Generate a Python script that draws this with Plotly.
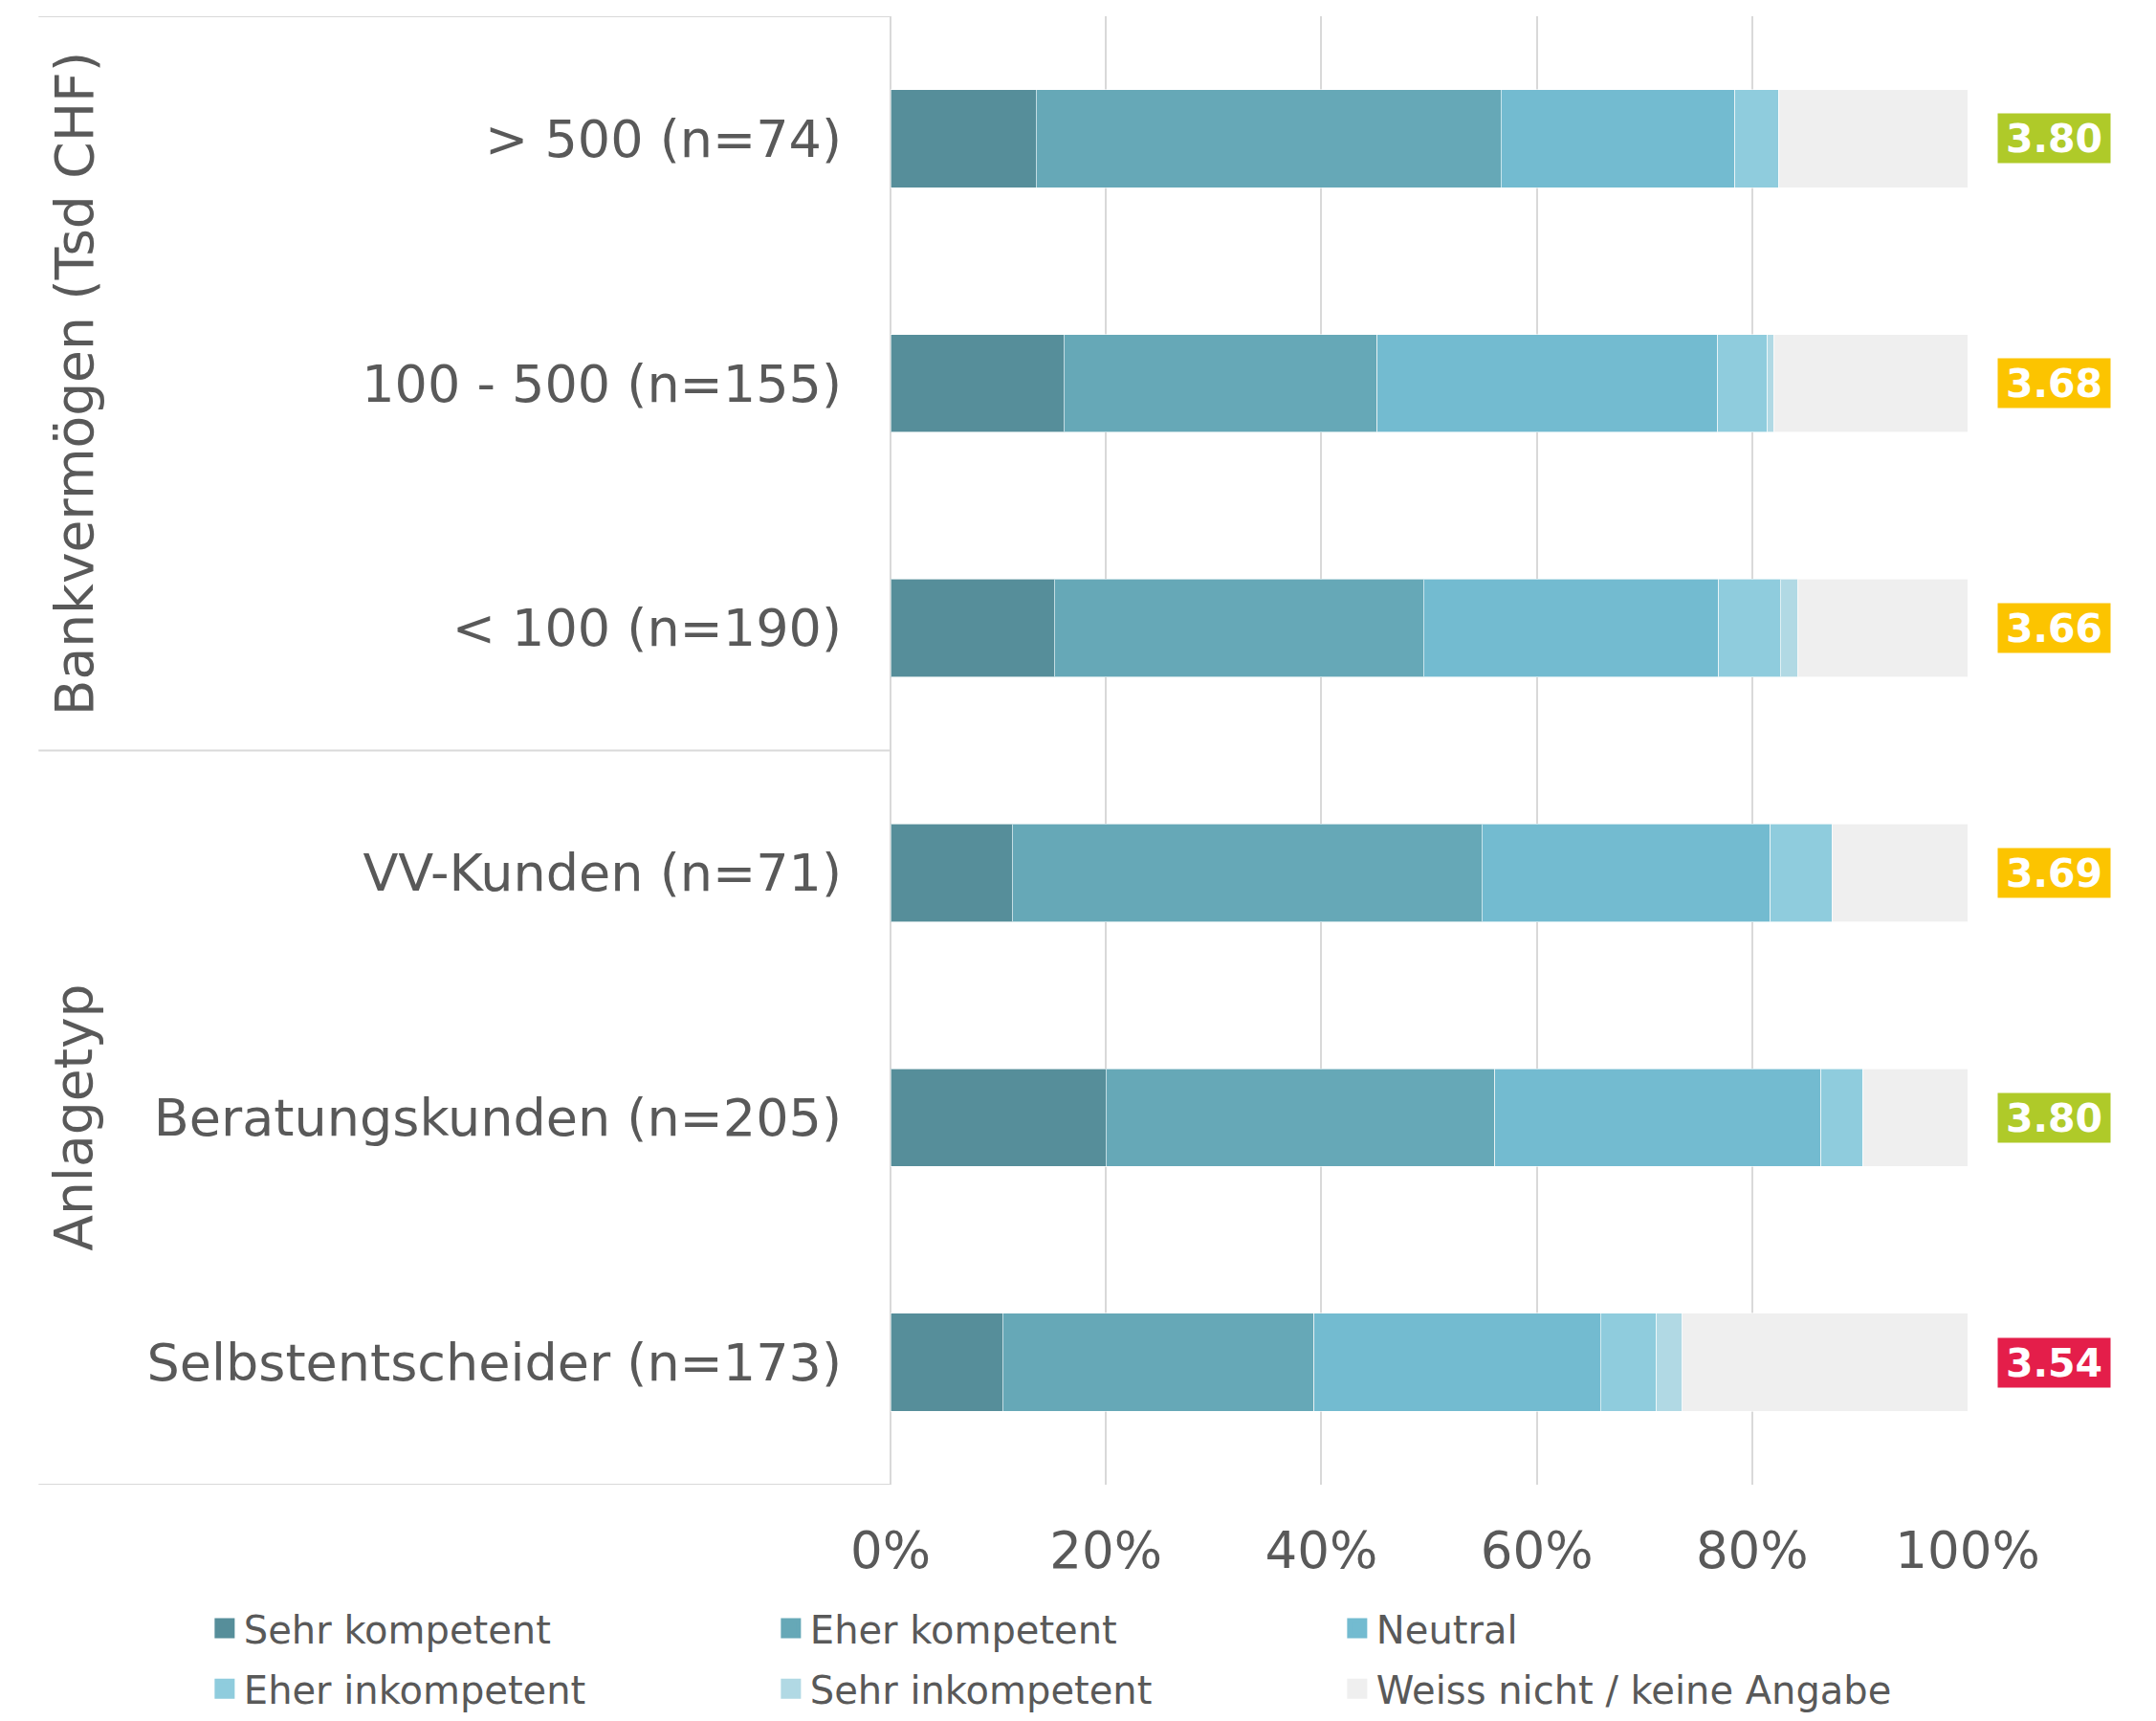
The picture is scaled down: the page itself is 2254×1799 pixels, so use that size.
import plotly.graph_objects as go

# --- DATA (rows top to bottom, values in %) ---
categories = ["> 500 (n=74)", "100 - 500 (n=155)", "< 100 (n=190)",
              "VV-Kunden (n=71)", "Beratungskunden (n=205)", "Selbstentscheider (n=173)"]
group_names = ["Bankvermögen (Tsd CHF)", "Anlagetyp"]
group_rows = [[0, 1, 2], [3, 4, 5]]

sehr_kompetent = [13.5, 16.1, 15.2, 11.3, 20.0, 10.4]
eher_kompetent = [43.2, 29.1, 34.3, 43.6, 36.1, 28.9]
neutral = [21.7, 31.6, 27.4, 26.8, 30.3, 26.6]
eher_inkompetent = [4.1, 4.6, 5.7, 5.7, 3.9, 5.2]
sehr_inkompetent = [0.0, 0.6, 1.6, 0.0, 0.0, 2.4]
weiss_nicht = [17.5, 18.0, 15.8, 12.6, 9.7, 26.5]

scores = [3.80, 3.68, 3.66, 3.69, 3.80, 3.54]
score_colors = ["#AFCA29", "#FCC400", "#FCC400", "#FCC400", "#AFCA29", "#E41E4A"]

x_ticks = [0, 20, 40, 60, 80, 100]

series = [
    ("Sehr kompetent", sehr_kompetent, "#568E9A"),
    ("Eher kompetent", eher_kompetent, "#66A8B7"),
    ("Neutral", neutral, "#73BBD0"),
    ("Eher inkompetent", eher_inkompetent, "#8FCCDD"),
    ("Sehr inkompetent", sehr_inkompetent, "#B1D9E4"),
    ("Weiss nicht / keine Angabe", weiss_nicht, "#EFEFEF"),
]

FONT = "DejaVu Sans"
GREY = "#595959"
LINE = "#D9D9D9"

fig = go.Figure()
idx = list(range(len(categories)))

for name, vals, col in series:
    fig.add_trace(go.Bar(
        y=idx, x=vals, orientation="h", name=name, width=0.4, showlegend=False,
        marker=dict(color=col, line=dict(color="rgba(255,255,255,0.6)", width=1)),
    ))

# legend-only entries (bigger square swatches); first three in row 1, rest in row 2
for k, (name, vals, col) in enumerate(series):
    fig.add_trace(go.Scatter(
        x=[None], y=[None], mode="markers", name=name,
        legend="legend" if k < 3 else "legend2",
        marker=dict(symbol="square", size=16, color=col, line=dict(color=col, width=5)),
    ))

# score badges right of the bars
for i, (s, c) in enumerate(zip(scores, score_colors)):
    fig.add_annotation(x=1.08, xref="paper", xanchor="center", y=i, yref="y",
                       text=f"<b>{s:.2f}</b>", showarrow=False, bgcolor=c,
                       width=115, height=49,
                       font=dict(family=FONT, size=41, color="white"))

# group titles (rotated)
for gname, rows in zip(group_names, group_rows):
    fig.add_annotation(x=-0.758, xref="paper", xanchor="center",
                       y=sum(rows) / len(rows), yref="y",
                       text=gname, textangle=-90, showarrow=False,
                       font=dict(family=FONT, size=55, color=GREY))

# table lines on the left
for yv in [-0.5, 2.5, 5.5]:
    fig.add_shape(type="line", xref="paper", yref="y", x0=-0.791, x1=0, y0=yv, y1=yv,
                  line=dict(color=LINE, width=2))

leg_common = dict(orientation="h", x=-0.636, xanchor="left", yanchor="middle",
                  entrywidth=547, entrywidthmode="pixels", itemsizing="trace",
                  font=dict(family=FONT, size=40, color=GREY), traceorder="normal")

fig.update_layout(
    width=2254, height=1799,
    margin=dict(l=923, r=205, t=9, b=240),
    barmode="stack",
    plot_bgcolor="white", paper_bgcolor="white",
    font=dict(family=FONT, color=GREY),
    legend=dict(y=-0.0977, **leg_common),
    legend2=dict(y=-0.139, **leg_common),
    xaxis=dict(range=[0, 100], tickvals=x_ticks, ticktext=[f"{v}%" for v in x_ticks],
               showgrid=True, gridcolor=LINE, gridwidth=2, zeroline=True,
               zerolinecolor=LINE, zerolinewidth=2, showline=False,
               tickfont=dict(family=FONT, size=53, color=GREY), ticklabelstandoff=33),
    yaxis=dict(range=[5.5, -0.5], tickvals=idx, ticktext=categories, showgrid=False,
               zeroline=False, showline=False,
               tickfont=dict(family=FONT, size=54, color=GREY), ticklabelstandoff=50),
)

fig.write_html("out.html")
